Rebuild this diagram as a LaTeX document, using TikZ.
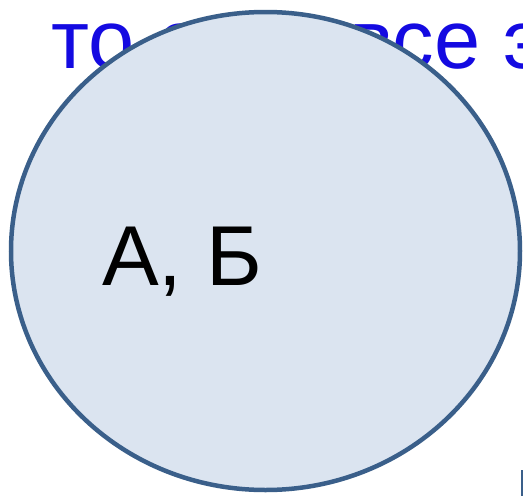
\documentclass[tikz,border=0pt]{standalone}
\usepackage{fontspec}
\setmainfont{Liberation Sans}
\definecolor{titleblue}{RGB}{20,10,225}
\definecolor{ellfill}{RGB}{219,228,240}
\definecolor{elldraw}{RGB}{58,95,138}
\tikzset{
  bigtext/.style={inner sep=0pt, anchor=base west, font=\fontsize{83}{90}\selectfont},
  ellshape/.style={fill=ellfill, draw=elldraw, line width=4.5pt}
}
\begin{document}
\begin{tikzpicture}[x=1pt,y=-1pt]
\useasboundingbox (0,0) rectangle (523,496);
\node[bigtext, text=titleblue] (title) at (51,68) {то есть все э};
\coordinate (c) at (265.5,251);
\draw[ellshape] (c) ellipse [x radius=254.5, y radius=239];
\node[bigtext, text=black, font=\fontsize{85}{90}\selectfont] (ab) at (102,285) {А, Б};
\coordinate (l1) at (522,470);
\coordinate (l2) at (522,496);
\draw[elldraw, line width=1.5pt] (l1) -- (l2);
\end{tikzpicture}
\end{document}
